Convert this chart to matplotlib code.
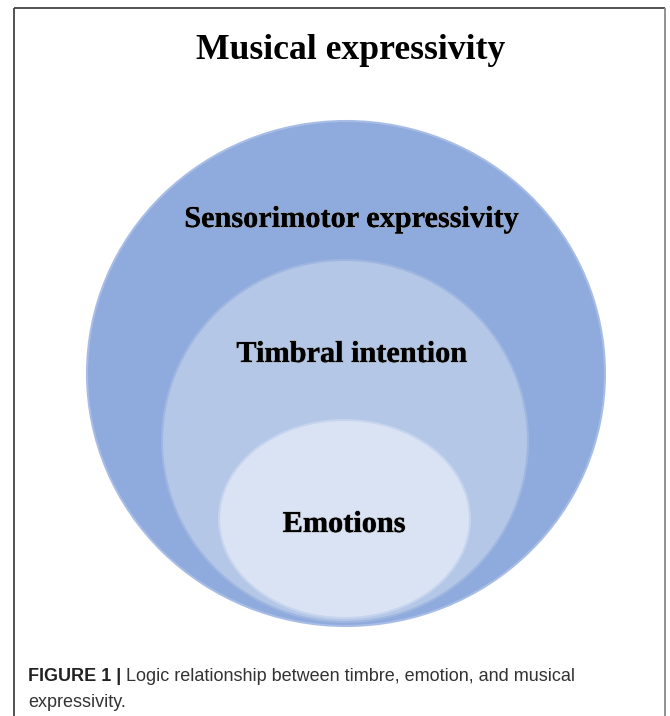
import matplotlib
matplotlib.use("Agg")
import matplotlib.pyplot as plt
from matplotlib.patches import Ellipse
import matplotlib.patheffects as pe

# ---- content ----
title = "Musical expressivity"
levels = ["Sensorimotor expressivity", "Timbral intention", "Emotions"]
level_colors = ["#8faadc", "#b4c7e7", "#dae3f3"]
caption_bold = "FIGURE 1 |"
caption_rest = " Logic relationship between timbre, emotion, and musical"
caption_line2 = "expressivity."

# ---- geometry (pixel layout of the diagram) ----
W, H = 670, 716
ell_centers = [(346, 373.5), (345, 441), (344.5, 519)]
ell_sizes = [(518, 505), (366, 362), (251, 198)]
label_x = [351, 351.5, 344]
label_baseline = [227, 362, 532]

cap_font = "Liberation Sans"
serif = "Liberation Serif"

fig = plt.figure(figsize=(W / 100, H / 100), dpi=100)
ax = fig.add_axes([0, 0, 1, 1])
ax.set_xlim(0, W)
ax.set_ylim(H, 0)
ax.axis("off")

# frame
ax.plot([14, 14], [8, H], color="#444444", lw=1.3, solid_capstyle="butt")
ax.plot([14, 665], [8, 8], color="#444444", lw=1.3, solid_capstyle="butt")
ax.plot([665, 665], [8, H], color="#888888", lw=1.3, solid_capstyle="butt")

edge_cols = ["#a8bde6", "#9fb6e0", "#c6d4ee"]
for (cx, cy), (w, h), fc, ec in zip(ell_centers, ell_sizes, level_colors, edge_cols):
    ax.add_patch(Ellipse((cx, cy), w, h, facecolor=fc, edgecolor=ec, lw=1.5))

ax.text(351, 59, title, ha="center", va="baseline", fontsize=25.7,
        fontweight="bold", family=serif, color="black")
for lab, x, y in zip(levels, label_x, label_baseline):
    t = ax.text(x, y, lab, ha="center", va="baseline",
                fontsize=21.8, fontweight="bold", family=serif, color="black")
    t.set_path_effects([pe.withStroke(linewidth=1.2, foreground="#9a9a9a", alpha=0.5), pe.Normal()])

# caption
t1 = ax.text(28, 681, caption_bold, ha="left", va="baseline", fontsize=13,
             fontweight="bold", family=cap_font, color="#222222")
fig.canvas.draw()
bb = t1.get_window_extent()
x_end = bb.x1
ax.annotate(caption_rest, xy=(x_end, H - 681), xycoords="figure pixels",
            ha="left", va="baseline", fontsize=13, family=cap_font, color="#333333")
ax.text(28, 707, caption_line2, ha="left", va="baseline", fontsize=13,
        family=cap_font, color="#333333")

fig.savefig("out.png", dpi=100)
